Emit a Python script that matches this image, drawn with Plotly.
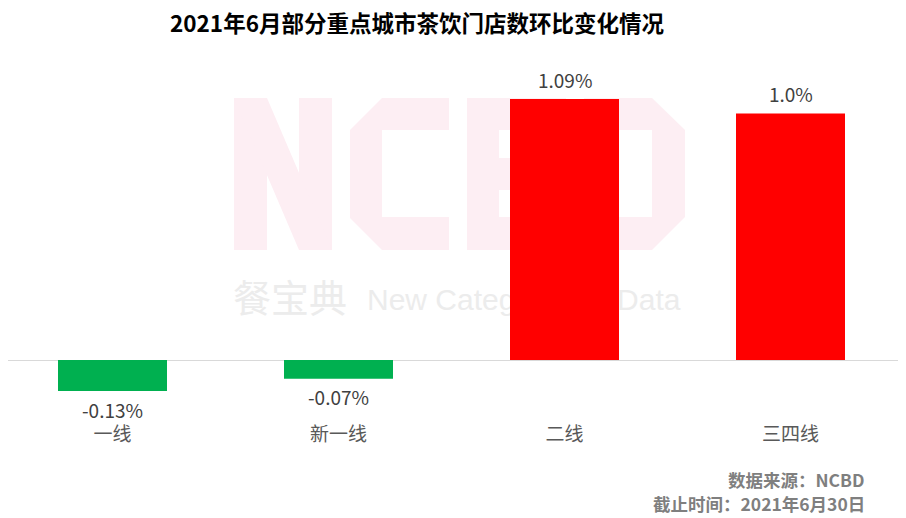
import plotly.graph_objects as go

# ---- data ----
categories = ["一线", "新一线", "二线", "三四线"]
values = [-0.13, -0.078, 1.09, 1.03]
value_labels = ["-0.13%", "-0.07%", "1.09%", "1.0%"]
bar_colors = ["#00B050", "#00B050", "#FF0000", "#FF0000"]

title_text = "2021年6月部分重点城市茶饮门店数环比变化情况"
source_lines = ["数据来源：NCBD", "截止时间：2021年6月30日"]

# page body has an 8px margin, so the figure is offset on screen
OFF = 8
W, H = 906 - OFF, 518 - OFF
# plot area in screen pixels
SX0, SX1 = 8, 904
SY0, SY1 = 60, 421
ML, MR = SX0 - OFF, W - (SX1 - OFF)
MT, MB = SY0 - OFF, H - (SY1 - OFF)
PW, PH = SX1 - SX0, SY1 - SY0
ZERO_PX = 360
PX_PER_UNIT = 239.4
CAT0_PX, CAT_STEP = 112.5, 226.0

CJK = "Noto Sans CJK SC"
PINK = "#FDEEF3"

fig = go.Figure()

# watermark text on base (screen-pixel) axes, beneath the bar subplot
fig.add_trace(go.Scatter(
    x=[290], y=[302], mode="text", text=["餐宝典"], textposition="middle center",
    textfont=dict(family=CJK, size=38, color="#ECECEC"), hoverinfo="skip",
    showlegend=False, xaxis="x", yaxis="y"))
fig.add_trace(go.Scatter(
    x=[367], y=[302], mode="text", text=["New Category Big Data"], textposition="middle right",
    textfont=dict(family="Liberation Sans", size=30, color="#ECECEC"), hoverinfo="skip",
    showlegend=False, xaxis="x", yaxis="y"))

# bars on overlay axes
fig.add_trace(go.Bar(
    x=categories, y=values, marker=dict(color=bar_colors, line=dict(width=0)),
    hoverinfo="skip", showlegend=False, xaxis="x2", yaxis="y2"))

# value labels
annotations = []
for c, v, t in zip(categories, values, value_labels):
    annotations.append(dict(
        x=c, y=v, xref="x2", yref="y2", text=t, showarrow=False,
        yshift=20 if v >= 0 else -18, yanchor="middle",
        font=dict(family=CJK, size=19, color="#404040")))

# source text (paper coords)
for i, line in enumerate(source_lines):
    sy = 479 + 24 * i
    annotations.append(dict(
        x=(867 - SX0) / PW, y=(SY1 - sy) / PH, xref="paper", yref="paper", text=line,
        showarrow=False, xanchor="right", yanchor="middle",
        font=dict(family=CJK, size=17.5, color="#7F7F7F", weight="bold")))

# NCBD watermark letters (decorative)
paths = [
    "M234,98 L267,98 L267,250 L234,250 Z",
    "M299,98 L332,98 L332,250 L299,250 Z",
    "M234,98 L267,98 L332,250 L299,250 Z",
    "M382,98 L449,98 L449,130 L382,130 L382,217 L449,217 L449,250 L382,250 L350,218 L350,130 Z",
    "M467,98 L566,98 L566,250 L467,250 Z M499,130 L499,158 L534,158 L534,130 Z M499,190 L499,217 L534,217 L534,190 Z",
    "M584,98 L652,98 L685,130 L685,217 L652,250 L584,250 Z M616,130 L616,217 L652,217 L652,130 Z",
]
shapes = [dict(type="path", path=p, xref="x", yref="y", fillcolor=PINK,
               line=dict(width=0), layer="below") for p in paths]

y_hi = (ZERO_PX - SY0) / PX_PER_UNIT
y_lo = -(SY1 - ZERO_PX) / PX_PER_UNIT
x_lo = -(CAT0_PX - SX0) / CAT_STEP
x_hi = x_lo + PW / CAT_STEP

fig.update_layout(
    width=W, height=H,
    margin=dict(l=ML, r=MR, t=MT, b=MB, autoexpand=False),
    paper_bgcolor="white", plot_bgcolor="rgba(0,0,0,0)",
    title=dict(text=title_text, x=(417 - OFF) / W, xanchor="center",
               y=1 - (24 - OFF) / H, yanchor="middle",
               font=dict(family=CJK, size=22.5, color="#000000", weight="bold")),
    xaxis=dict(range=[SX0, SX1], visible=False, fixedrange=True),
    yaxis=dict(range=[SY1, SY0], visible=False, fixedrange=True),
    xaxis2=dict(overlaying="x", anchor="y2", type="category", range=[x_lo, x_hi],
                showgrid=False, zeroline=False, showline=False, ticks="",
                tickfont=dict(family=CJK, size=19, color="#595959")),
    yaxis2=dict(overlaying="y", range=[y_lo, y_hi], showgrid=False, showticklabels=False,
                zeroline=True, zerolinecolor="#D9D9D9", zerolinewidth=1, ticks=""),
    bargap=1 - 109 / CAT_STEP,
    annotations=annotations,
    shapes=shapes,
    showlegend=False,
)

fig.write_html("out.html")
